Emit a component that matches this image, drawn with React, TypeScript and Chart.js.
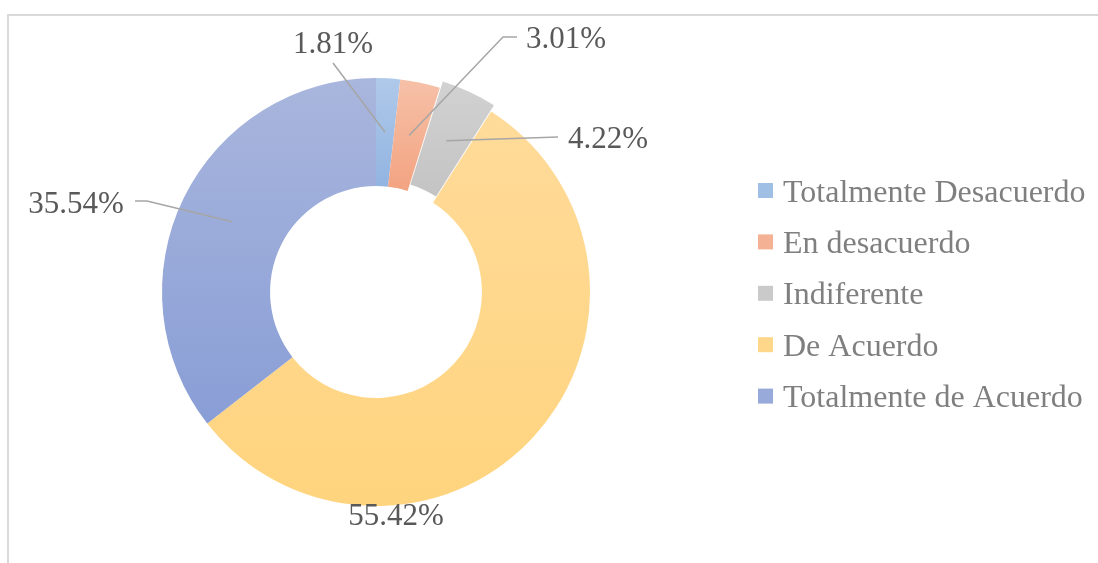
import React, { useEffect, useRef } from 'react';
import { Chart, registerables } from 'chart.js';

Chart.register(...registerables);

// ---- data ----
const categories = [
  'Totalmente Desacuerdo',
  'En desacuerdo',
  'Indiferente',
  'De Acuerdo',
  'Totalmente de Acuerdo',
];
const percentages = [1.81, 3.01, 4.22, 55.42, 35.54];
const valueLabels = ['1.81%', '3.01%', '4.22%', '55.42%', '35.54%'];

// ---- styles ----
const topColors = ['#AFC9E9', '#F6C1A8', '#D2D2D2', '#FFDB9A', '#A9B6DD'];
const bottomColors = ['#92B4E1', '#F3A381', '#C4C4C4', '#FFD47E', '#899ED6'];
const legendColors = ['#A0BFE5', '#F4B193', '#CACACA', '#FFD78A', '#98AADA'];
const sliceOffsets = [0, 0, 16, 0, 0];

// label layout relative to the chart centre: text centre x, baseline y, leader polyline start points
const labelLayout = [
  { tx: -43, ty: -239, path: [[-43, -229]] },
  { tx: 190, ty: -244, path: [[141, -255], [127, -255]] },
  { tx: 232, ty: -144, path: [[182, -155]] },
  { tx: 20, ty: 233, path: [] as number[][] },
  { tx: -300, ty: -79, path: [[-241, -91], [-229, -91]] },
];

const FONT = "'Liberation Serif', 'Times New Roman', serif";

function arcShift(el: any) {
  const offset = (el.options.offset || 0) / 4;
  const circ = el.endAngle - el.startAngle;
  const fix = 1 - Math.sin(Math.min(Math.PI, circ || 0));
  const d = offset + offset * fix;
  const mid = (el.startAngle + el.endAngle) / 2;
  return { dx: Math.cos(mid) * d, dy: Math.sin(mid) * d, mid };
}

const gradientPlugin = {
  id: 'sliceGradient',
  beforeDatasetsDraw(chart: any) {
    const ctx = chart.ctx;
    const meta = chart.getDatasetMeta(0);
    meta.data.forEach((el: any, i: number) => {
      const { dy } = arcShift(el);
      let yMin = Infinity;
      let yMax = -Infinity;
      const n = 60;
      for (let k = 0; k <= n; k++) {
        const a = el.startAngle + ((el.endAngle - el.startAngle) * k) / n;
        for (const r of [el.innerRadius, el.outerRadius]) {
          const y = el.y + Math.sin(a) * r + dy;
          yMin = Math.min(yMin, y);
          yMax = Math.max(yMax, y);
        }
      }
      const g = ctx.createLinearGradient(0, yMin, 0, yMax);
      g.addColorStop(0, topColors[i]);
      g.addColorStop(1, bottomColors[i]);
      el.options = { ...el.options, backgroundColor: g };
    });
  },
};

const decorPlugin = {
  id: 'decor',
  afterDraw(chart: any) {
    const ctx = chart.ctx;
    ctx.save();
    // frame
    ctx.fillStyle = '#D9D9D9';
    ctx.fillRect(7, 14, chart.width - 7, 2);
    ctx.fillRect(7, 14, 2, chart.height - 14);

    // data labels with leader lines
    const meta = chart.getDatasetMeta(0);
    meta.data.forEach((el: any, i: number) => {
      const lay = labelLayout[i];
      const cx = el.x;
      const cy = el.y;
      const { dx, dy, mid } = arcShift(el);
      const r = (el.innerRadius + el.outerRadius) / 2;
      const ax = cx + Math.cos(mid) * r + dx;
      const ay = cy + Math.sin(mid) * r + dy;
      if (lay.path.length) {
        ctx.strokeStyle = '#A6A6A6';
        ctx.lineWidth = 1.5;
        ctx.beginPath();
        ctx.moveTo(cx + lay.path[0][0], cy + lay.path[0][1]);
        for (let k = 1; k < lay.path.length; k++) ctx.lineTo(cx + lay.path[k][0], cy + lay.path[k][1]);
        ctx.lineTo(ax, ay);
        ctx.stroke();
      }
      ctx.fillStyle = '#595959';
      ctx.font = `31px ${FONT}`;
      ctx.textAlign = 'center';
      ctx.textBaseline = 'alphabetic';
      ctx.fillText(valueLabels[i], cx + lay.tx, cy + lay.ty);
    });

    // legend
    const lx = 758;
    const ly0 = 190.5;
    const step = 51.4;
    ctx.font = `32px ${FONT}`;
    ctx.textAlign = 'left';
    categories.forEach((c, i) => {
      const yc = ly0 + i * step;
      ctx.fillStyle = legendColors[i];
      ctx.fillRect(lx, yc - 7.5, 15, 15);
      ctx.fillStyle = '#7F7F7F';
      ctx.fillText(c, 783, yc + 11);
    });
    ctx.restore();
  },
};

export default function App() {
  const ref = useRef<HTMLCanvasElement | null>(null);
  useEffect(() => {
    document.body.style.margin = '0';
    const canvas = ref.current!;
    const chart = new Chart(canvas, {
      type: 'doughnut',
      data: {
        labels: categories,
        datasets: [
          {
            data: percentages,
            backgroundColor: legendColors,
            borderWidth: 0,
            offset: sliceOffsets,
            hoverOffset: 0,
          },
        ],
      },
      options: {
        responsive: false,
        animation: false,
        devicePixelRatio: 1,
        radius: 214,
        cutout: '49.5%',
        layout: { padding: { left: 100, right: 446, top: 60, bottom: 39 } },
        plugins: {
          legend: { display: false },
          tooltip: { enabled: false },
        },
        events: [],
      },
      plugins: [gradientPlugin, decorPlugin],
    } as any);
    return () => chart.destroy();
  }, []);
  return (
    <div style={{ width: 1098, height: 563, background: '#fff' }}>
      <canvas ref={ref} width={1098} height={563} style={{ display: 'block', width: 1098, height: 563 }} />
    </div>
  );
}
